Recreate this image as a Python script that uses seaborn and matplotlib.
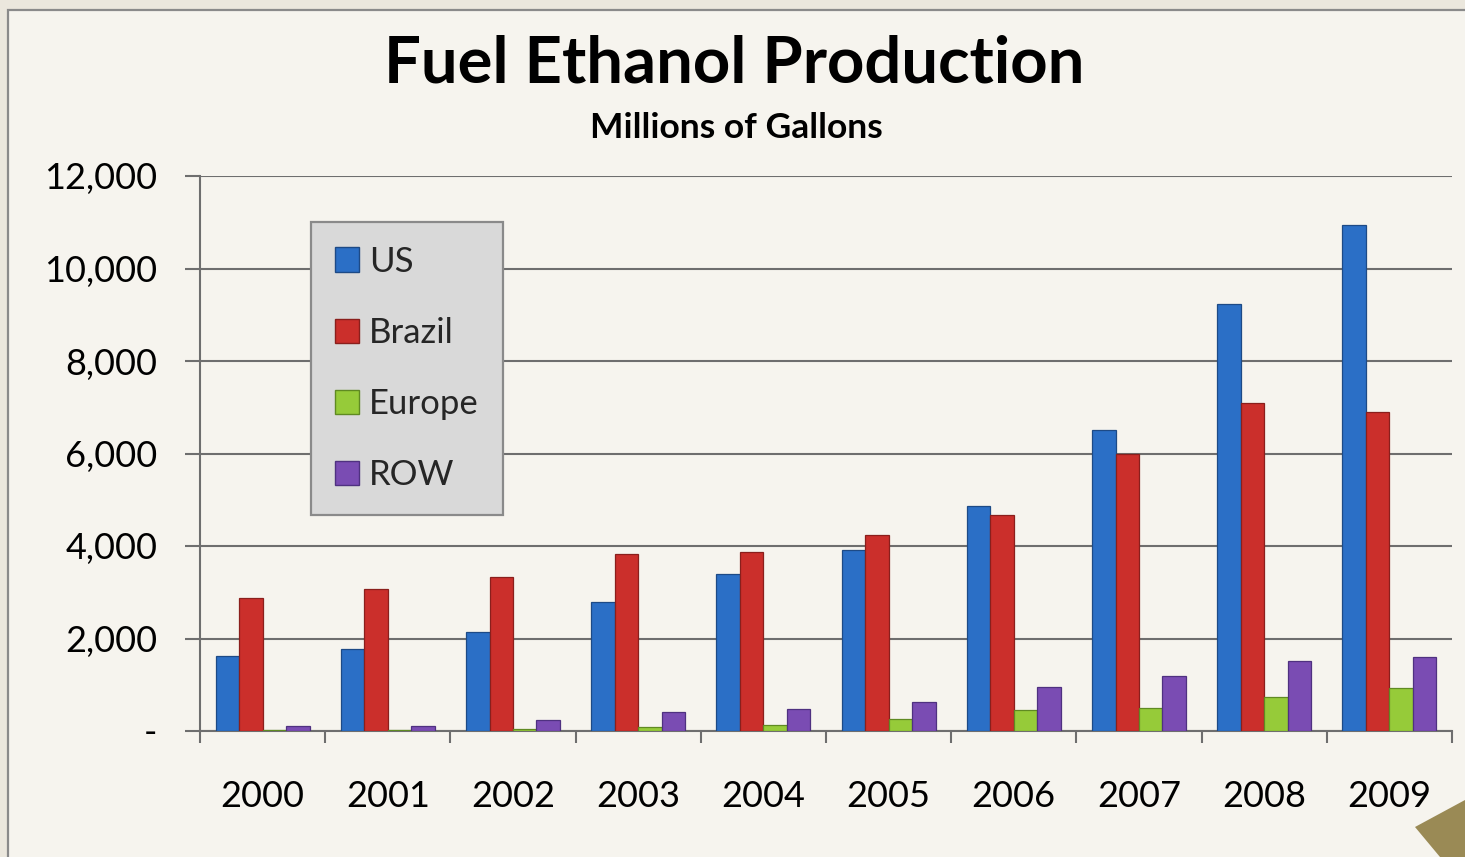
import matplotlib
matplotlib.use("Agg")
import matplotlib.pyplot as plt
from matplotlib.patches import Rectangle, Polygon
from matplotlib.ticker import FixedLocator, FuncFormatter
import pandas as pd
import seaborn as sns

years = ["2000", "2001", "2002", "2003", "2004", "2005", "2006", "2007", "2008", "2009"]
us = [1630, 1770, 2130, 2800, 3400, 3904, 4855, 6500, 9235, 10938]
brazil = [2870, 3070, 3330, 3830, 3880, 4230, 4680, 5980, 7100, 6900]
europe = [20, 30, 50, 90, 120, 250, 450, 500, 740, 940]
row = [100, 100, 230, 420, 470, 620, 950, 1180, 1520, 1590]
regions = ["US", "Brazil", "Europe", "ROW"]
y_ticks = [0, 2000, 4000, 6000, 8000, 10000, 12000]

colors = {"US": "#2b6fc6", "Brazil": "#cb2f2b", "Europe": "#96cb39", "ROW": "#7a4cb3"}
edges = {"US": "#1d4a86", "Brazil": "#8a1f1c", "Europe": "#5f8a22", "ROW": "#4f3180"}

df = pd.DataFrame({
    "Year": years * 4,
    "Region": sum([[r] * len(years) for r in regions], []),
    "Value": us + brazil + europe + row,
})

sns.set_theme(style="white")
plt.rcParams["font.family"] = ["Lato", "DejaVu Sans"]

W, H = 1465, 857
fig = plt.figure(figsize=(W / 100, H / 100), dpi=100)
fig.patch.set_facecolor("#ebe7dd")

# slide panel with thin frame
fig.patches.append(Rectangle((8 / W, -0.01), 1.0, (H - 10) / H + 0.01, transform=fig.transFigure,
                             facecolor="#f6f4ee", edgecolor="#8a8a8a", linewidth=1.6, zorder=-10))
# olive corner accent
fig.patches.append(Polygon([(1415 / W, 30 / H), (1465 / W, 57 / H), (1465 / W, 0), (1440 / W, 0)],
                           closed=True, transform=fig.transFigure,
                           facecolor="#9a8a55", edgecolor="none", zorder=-5))

ax = fig.add_axes([200 / W, (H - 731) / H, (1452 - 200) / W, (731 - 176) / H])
ax.set_zorder(2)
ax.set_facecolor("none")

sns.barplot(data=df, x="Year", y="Value", hue="Region", hue_order=regions,
            palette=colors, saturation=1, width=0.75, gap=0, ax=ax, legend=False, zorder=3)

for container, reg in zip(ax.containers, regions):
    for bar in container:
        bar.set_edgecolor(edges[reg])
        bar.set_linewidth(0.9)

ax.set_xlim(-0.5, 9.5)
ax.set_ylim(0, 12000)
ax.yaxis.set_major_locator(FixedLocator(y_ticks))
ax.yaxis.set_major_formatter(FuncFormatter(lambda v, p: "-" if v == 0 else f"{int(v):,}"))
ax.grid(axis="y", color="#6e6e6e", linewidth=1.5, zorder=1)
ax.grid(axis="x", visible=False)
ax.set_axisbelow(True)
ax.set_xlabel("")
ax.set_ylabel("")

for side in ["top", "right"]:
    ax.spines[side].set_visible(False)
for side in ["left", "bottom"]:
    ax.spines[side].set_color("#6e6e6e")
    ax.spines[side].set_linewidth(1.5)

ax.tick_params(axis="y", which="major", left=True, length=10.8, width=1.5, color="#6e6e6e",
               pad=20, labelsize=26, labelcolor="black")
ax.xaxis.set_minor_locator(FixedLocator([i - 0.5 for i in range(len(years) + 1)]))
ax.tick_params(axis="x", which="major", bottom=False, length=0, pad=35, labelsize=26,
               labelcolor="black")
ax.tick_params(axis="x", which="minor", bottom=True, length=8.6, width=1.5, color="#6e6e6e")

# legend
handles = [Rectangle((0, 0), 1, 1, facecolor=colors[r], edgecolor=edges[r]) for r in regions]
leg = ax.legend(handles, regions, loc="upper left",
                bbox_to_anchor=((311 - 200) / (1452 - 200), (731 - 222) / (731 - 176)),
                frameon=True, fontsize=25, handlelength=0.7, handleheight=0.7,
                handletextpad=0.3, labelspacing=1.13, borderpad=0.68, borderaxespad=0,
                fancybox=False)
leg.get_frame().set_facecolor("#d9d9d9")
leg.get_frame().set_edgecolor("#8a8a8a")
leg.get_frame().set_linewidth(1.6)
leg.get_frame().set_alpha(1)
leg.set_zorder(5)

fig.text(734 / W, 1 - 64 / H, "Fuel Ethanol Production", ha="center", va="center",
         fontsize=47, fontweight="bold", color="black")
fig.text(736 / W, 1 - 128 / H, "Millions of Gallons", ha="center", va="center",
         fontsize=25.5, fontweight="bold", color="black")

fig.savefig("out.png", dpi=100, facecolor=fig.get_facecolor())
